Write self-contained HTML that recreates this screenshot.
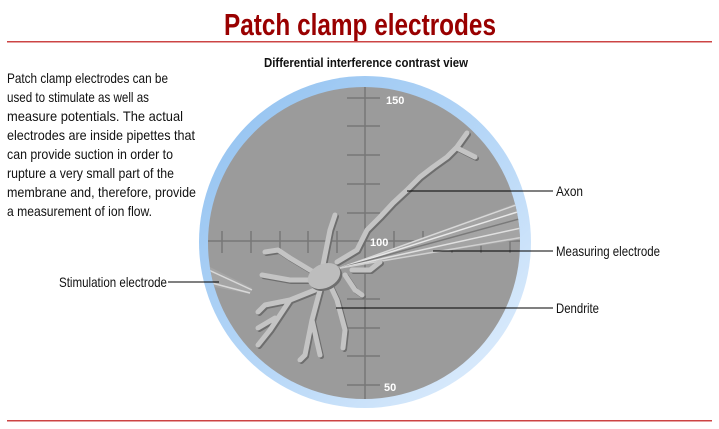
<!DOCTYPE html>
<html><head><meta charset="utf-8"><style>
html,body{margin:0;padding:0;background:#fff;}
svg{display:block;}
text{font-family:"Liberation Sans",sans-serif;}
</style></head><body>
<svg width="719" height="429" viewBox="0 0 719 429" xmlns="http://www.w3.org/2000/svg">
<defs>
<linearGradient id="ring" x1="0" y1="0" x2="1" y2="1">
<stop offset="0" stop-color="#8fc0f0"/><stop offset="0.6" stop-color="#bcdaf8"/><stop offset="1" stop-color="#e6f1fd"/>
</linearGradient>
<clipPath id="c"><circle cx="364" cy="243" r="156"/></clipPath>
</defs>
<text x="360" y="35" text-anchor="middle" font-size="31" font-weight="bold" fill="#990000" textLength="272" lengthAdjust="spacingAndGlyphs">Patch clamp electrodes</text>
<rect x="7" y="41" width="705" height="1.5" fill="#c44"/>
<rect x="7" y="420" width="705" height="1.5" fill="#c44"/>
<text x="366" y="67" text-anchor="middle" font-size="12.5" font-weight="bold" fill="#111" textLength="204" lengthAdjust="spacingAndGlyphs">Differential interference contrast view</text>
<g font-size="14" fill="#111">
<text x="7" y="83" textLength="161" lengthAdjust="spacingAndGlyphs">Patch clamp electrodes can be</text>
<text x="7" y="102" textLength="142" lengthAdjust="spacingAndGlyphs">used to stimulate as well as</text>
<text x="7" y="121" textLength="176" lengthAdjust="spacingAndGlyphs">measure potentials. The actual</text>
<text x="7" y="140" textLength="188" lengthAdjust="spacingAndGlyphs">electrodes are inside pipettes that</text>
<text x="7" y="159" textLength="166" lengthAdjust="spacingAndGlyphs">can provide suction in order to</text>
<text x="7" y="178" textLength="167" lengthAdjust="spacingAndGlyphs">rupture a very small part of the</text>
<text x="7" y="197" textLength="189" lengthAdjust="spacingAndGlyphs">membrane and, therefore, provide</text>
<text x="7" y="216" textLength="145" lengthAdjust="spacingAndGlyphs">a measurement of ion flow.</text>
</g>
<circle cx="365" cy="242" r="166" fill="url(#ring)"/>
<circle cx="364" cy="243" r="156" fill="#9b9b9b"/>
<g clip-path="url(#c)">
<g stroke="#777" stroke-width="1.5">
<line x1="365" y1="80" x2="365" y2="410"/>
<line x1="200" y1="241" x2="530" y2="241"/>
<line x1="347" y1="98" x2="380" y2="98"/><line x1="347" y1="126" x2="380" y2="126"/>
<line x1="347" y1="155" x2="380" y2="155"/><line x1="347" y1="184" x2="380" y2="184"/>
<line x1="347" y1="213" x2="380" y2="213"/><line x1="347" y1="299" x2="380" y2="299"/>
<line x1="347" y1="328" x2="380" y2="328"/><line x1="347" y1="356" x2="380" y2="356"/>
<line x1="347" y1="385" x2="380" y2="385"/>
<line x1="222" y1="231" x2="222" y2="253"/><line x1="251" y1="231" x2="251" y2="253"/>
<line x1="280" y1="231" x2="280" y2="253"/><line x1="308" y1="231" x2="308" y2="253"/>
<line x1="337" y1="231" x2="337" y2="253"/><line x1="394" y1="231" x2="394" y2="253"/>
<line x1="423" y1="231" x2="423" y2="253"/><line x1="452" y1="231" x2="452" y2="253"/>
<line x1="481" y1="231" x2="481" y2="253"/><line x1="510" y1="231" x2="510" y2="253"/>
</g>
<polygon points="340,268 530,198 530,238" fill="#a4a4a4"/>
<g stroke-width="1.5" fill="none">
<line x1="340" y1="268" x2="530" y2="200" stroke="#d8d8d8"/>
<line x1="340" y1="268" x2="530" y2="208" stroke="#e8e8e8"/>
<line x1="340" y1="268" x2="530" y2="216" stroke="#7a7a7a"/>
<line x1="340" y1="268" x2="530" y2="226" stroke="#e0e0e0"/>
<line x1="340" y1="268" x2="530" y2="236" stroke="#d0d0d0"/>
</g>
<polygon points="200,262 252,288 250,294 200,284" fill="#a5a5a5"/>
<line x1="200" y1="266" x2="252" y2="290" stroke="#d8d8d8" stroke-width="1.5"/>
<line x1="200" y1="280" x2="250" y2="293" stroke="#d8d8d8" stroke-width="1.5"/>
<g stroke="#6e6e6e" stroke-width="5" fill="none" stroke-linecap="round" stroke-linejoin="round" transform="translate(1.5,1.5)">
<path d="M337,262 L357,250 L367,230 L380,217 L393,203 L407,190 L420,177 L433,167 L447,157 L457,147 L467,133"/>
<path d="M457,148 L475,157"/>
<path d="M323,265 L330,230 L335,215"/>
<path d="M315,273 L290,258 L278,250 L265,252"/>
<path d="M310,280 L290,280 L262,275"/>
<path d="M315,290 L290,300 L265,305 L258,312 M290,300 L270,330 L258,345 M275,318 L258,328"/>
<path d="M320,290 L312,320 L305,355 L300,360 M312,320 L320,355"/>
<path d="M330,285 L337,300 L345,330 L343,348"/>
<path d="M345,275 L355,290 L362,295"/>
<path d="M352,270 L370,270 L380,262"/>
</g>
<g stroke="#c4c4c4" stroke-width="5" fill="none" stroke-linecap="round" stroke-linejoin="round">
<path d="M337,262 L357,250 L367,230 L380,217 L393,203 L407,190 L420,177 L433,167 L447,157 L457,147 L467,133"/>
<path d="M457,148 L475,157"/>
<path d="M323,265 L330,230 L335,215"/>
<path d="M315,273 L290,258 L278,250 L265,252"/>
<path d="M310,280 L290,280 L262,275"/>
<path d="M315,290 L290,300 L265,305 L258,312 M290,300 L270,330 L258,345 M275,318 L258,328"/>
<path d="M320,290 L312,320 L305,355 L300,360 M312,320 L320,355"/>
<path d="M330,285 L337,300 L345,330 L343,348"/>
<path d="M345,275 L355,290 L362,295"/>
<path d="M352,270 L370,270 L380,262"/>
</g>
<ellipse cx="326" cy="278" rx="17" ry="12" transform="rotate(-25 326 278)" fill="#6e6e6e"/>
<ellipse cx="324" cy="276" rx="17" ry="12" transform="rotate(-25 324 276)" fill="#bdbdbd"/>
</g>
<g font-size="11" font-weight="bold" fill="#fff">
<text x="386" y="104">150</text>
<text x="370" y="246">100</text>
<text x="384" y="391">50</text>
</g>
<g stroke="#000" stroke-width="1">
<line x1="407" y1="191" x2="553" y2="191"/>
<line x1="433" y1="251" x2="553" y2="251"/>
<line x1="336" y1="308" x2="553" y2="308"/>
<line x1="168" y1="282" x2="219" y2="282"/>
</g>
<g font-size="14" fill="#111">
<text x="556" y="196" textLength="27" lengthAdjust="spacingAndGlyphs">Axon</text>
<text x="556" y="256" textLength="104" lengthAdjust="spacingAndGlyphs">Measuring electrode</text>
<text x="556" y="313" textLength="43" lengthAdjust="spacingAndGlyphs">Dendrite</text>
<text x="59" y="287" textLength="108" lengthAdjust="spacingAndGlyphs">Stimulation electrode</text>
</g>
</svg>
</body></html>
